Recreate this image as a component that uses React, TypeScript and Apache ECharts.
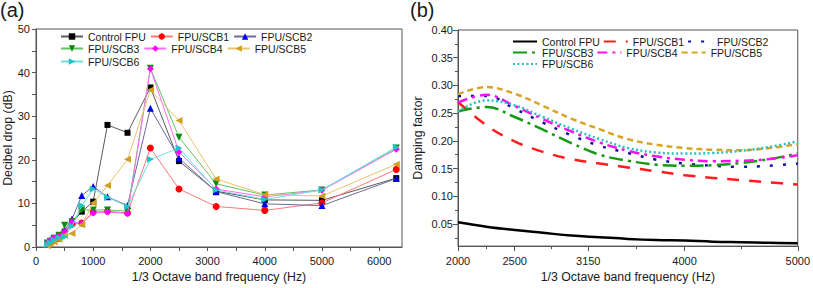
import React, { useEffect, useRef } from "react";
import * as echarts from "echarts";

// ---------- Data: panel (a) ----------
const freqA = [200, 250, 315, 400, 500, 630, 800, 1000, 1250, 1600, 2000, 2500, 3150, 4000, 5000, 6300];
const controlA = [0.8, 1.2, 1.8, 2.4, 3.5, 5.5, 8.1, 10.4, 28.0, 26.2, 36.6, 19.7, 12.8, 10.8, 10.7, 15.8];
const scb1A = [0.6, 1.0, 1.5, 2.0, 3.0, 5.2, 5.5, 8.0, 8.2, 7.8, 22.7, 13.3, 9.3, 8.4, 10.1, 17.8];
const scb2A = [1.0, 1.5, 2.0, 2.6, 3.9, 6.4, 11.8, 13.9, 11.5, 9.5, 31.8, 20.4, 12.7, 9.9, 9.5, 15.7];
const scb3A = [0.9, 1.3, 2.0, 2.7, 5.0, 5.8, 8.5, 8.5, 8.5, 8.2, 41.0, 25.2, 14.5, 11.9, 13.1, 22.7];
const scb4A = [0.9, 1.6, 2.1, 2.5, 3.5, 5.8, 5.4, 7.8, 8.0, 7.7, 40.9, 21.8, 13.3, 11.5, 13.0, 22.4];
const scb5A = [0.3, 0.8, 1.2, 1.8, 2.7, 3.1, 5.1, 10.1, 14.1, 20.1, 36.0, 29.0, 15.6, 12.0, 11.7, 19.0];
const scb6A = [0.5, 1.0, 1.6, 2.2, 2.3, 4.8, 9.5, 13.3, 11.4, 9.3, 20.1, 22.7, 13.1, 10.9, 13.1, 22.9];

const xLabelsA = [0, 1000, 2000, 3000, 4000, 5000, 6000];
const xTicksA = [0, 500, 1000, 1500, 2000, 2500, 3000, 3500, 4000, 4500, 5000, 5500, 6000];
const yLabelsA = [0, 10, 20, 30, 40, 50];
const yTicksA = [0, 5, 10, 15, 20, 25, 30, 35, 40, 45, 50];

// ---------- Data: panel (b) ----------
const freqB = [2000, 2250, 2500, 2750, 3000, 3250, 3500, 3750, 4000, 4250, 4500, 4750, 5000];
const controlB = [0.053, 0.045, 0.039, 0.034, 0.029, 0.026, 0.023, 0.021, 0.020, 0.018, 0.017, 0.016, 0.015];
const scb1B = [0.270, 0.228, 0.199, 0.180, 0.167, 0.159, 0.152, 0.145, 0.138, 0.133, 0.129, 0.125, 0.121];
const scb2B = [0.281, 0.281, 0.258, 0.233, 0.210, 0.191, 0.178, 0.166, 0.159, 0.155, 0.153, 0.155, 0.159];
const scb3B = [0.253, 0.261, 0.243, 0.220, 0.196, 0.175, 0.164, 0.157, 0.155, 0.156, 0.160, 0.167, 0.177];
const scb4B = [0.269, 0.283, 0.263, 0.239, 0.217, 0.197, 0.182, 0.172, 0.166, 0.163, 0.164, 0.167, 0.174];
const scb5B = [0.284, 0.297, 0.285, 0.263, 0.240, 0.221, 0.203, 0.193, 0.187, 0.184, 0.183, 0.187, 0.194];
const scb6B = [0.253, 0.273, 0.264, 0.243, 0.222, 0.203, 0.187, 0.179, 0.177, 0.178, 0.182, 0.189, 0.199];

const xLabelsB = [2000, 2500, 3150, 4000, 5000];
const xMinorB = [2250, 2825, 3575, 4500];
const yLabelsB = [0.05, 0.1, 0.15, 0.2, 0.25, 0.3, 0.35, 0.4];
const yMinorB = [0.025, 0.075, 0.125, 0.175, 0.225, 0.275, 0.325, 0.375];

const names = ["Control FPU", "FPU/SCB1", "FPU/SCB2", "FPU/SCB3", "FPU/SCB4", "FPU/SCB5", "FPU/SCB6"];

const FONT = "'Liberation Sans', Arial, sans-serif";
const AXIS = "#555";
const TXT = "#1a1a1a";

const pair = (xs: number[], ys: number[]) => xs.map((x, i) => [x, ys[i]]);

export default function App() {
  const ref = useRef<HTMLDivElement>(null);
  useEffect(() => {
    if (!ref.current) return;
    const chart = echarts.init(ref.current, undefined, { renderer: "svg" });

    const seriesA = [
      { data: controlA, line: "#5a5a5a", mark: "#000000", symbol: "rect", rot: 0 },
      { data: scb1A, line: "#ff7878", mark: "#ff0000", symbol: "circle", rot: 0 },
      { data: scb2A, line: "#6a6a9a", mark: "#0000ee", symbol: "triangle", rot: 0 },
      { data: scb3A, line: "#5fc45f", mark: "#0a8a0a", symbol: "triangle", rot: 180 },
      { data: scb4A, line: "#ff6cff", mark: "#ff00ff", symbol: "diamond", rot: 0 },
      { data: scb5A, line: "#e8c46a", mark: "#d19f1c", symbol: "triangle", rot: 90 },
      { data: scb6A, line: "#6ee0e0", mark: "#20c4c4", symbol: "triangle", rot: -90 },
    ].map((s, i) => ({
      type: "line",
      name: names[i],
      xAxisIndex: 0,
      yAxisIndex: 0,
      data: pair(freqA, s.data),
      symbol: s.symbol,
      symbolRotate: s.rot,
      symbolSize: s.symbol === "rect" ? 6 : 7,
      lineStyle: { color: s.line, width: 1 },
      itemStyle: { color: s.mark },
      z: 2 + i,
    }));

    const seriesB = [
      { data: controlB, color: "#000000", type: "solid" as any },
      { data: scb1B, color: "#ff1c1c", type: [12, 10] },
      { data: scb2B, color: "#12129c", type: [3, 10] },
      { data: scb3B, color: "#139a13", type: [14, 5, 3, 5] },
      { data: scb4B, color: "#ff10f0", type: [10, 5, 3, 5] },
      { data: scb5B, color: "#d9a323", type: [6, 4] },
      { data: scb6B, color: "#22c2c2", type: [2, 2.5] },
    ].map((s, i) => ({
      type: "line",
      name: names[i] + "#b",
      xAxisIndex: 2,
      yAxisIndex: 2,
      data: pair(freqB, s.data),
      showSymbol: false,
      symbol: "none",
      smooth: 0.4,
      lineStyle: { color: s.color, width: 2.5, type: s.type },
      itemStyle: { color: s.color },
      z: 2 + i,
    }));

    const legendCommon = {
      orient: "horizontal",
      padding: 0,
      itemGap: 4,
      itemWidth: 22,
      itemHeight: 8,
      textStyle: { fontSize: 10.5, fontFamily: FONT, color: TXT },
      selectedMode: false,
    };
    const legendB = {
      ...legendCommon,
      itemWidth: 24,
      itemGap: 3,
      itemStyle: { opacity: 0 },
      formatter: (n: string) => n.replace("#b", ""),
    };

    const tickLabel = { fontSize: 11, fontFamily: FONT, color: TXT, formatter: (v: number) => String(v) };
    const nameStyle = { fontSize: 12.3, fontFamily: FONT, color: TXT };

    chart.setOption({
      animation: false,
      backgroundColor: "#ffffff",
      title: [
        { text: "(a)", left: 0, top: 0, padding: 0, textStyle: { fontSize: 20, fontWeight: "normal", fontFamily: FONT, color: TXT } },
        { text: "(b)", left: 410, top: 0, padding: 0, textStyle: { fontSize: 20, fontWeight: "normal", fontFamily: FONT, color: TXT } },
      ],
      legend: [
        { ...legendCommon, left: 60, top: 31, data: names.slice(0, 3) },
        { ...legendCommon, left: 60, top: 43, data: names.slice(3, 6) },
        { ...legendCommon, left: 60, top: 56, data: names.slice(6) },
        { ...legendB, left: 512, top: 36, data: names.slice(0, 3).map((n) => n + "#b") },
        { ...legendB, left: 512, top: 47, data: names.slice(3, 6).map((n) => n + "#b") },
        { ...legendB, left: 512, top: 58.5, data: names.slice(6).map((n) => n + "#b") },
      ],
      grid: [
        { left: 36, top: 29, width: 366, height: 221, show: true, borderColor: AXIS, borderWidth: 1, backgroundColor: "transparent" },
        { left: 458, top: 30, width: 341, height: 221, show: true, borderColor: AXIS, borderWidth: 1, backgroundColor: "transparent" },
      ],
      xAxis: [
        {
          type: "value", gridIndex: 0, min: 0, max: 6400, position: "bottom",
          name: "1/3 Octave band frequency (Hz)", nameLocation: "middle", nameGap: 24, nameTextStyle: nameStyle,
          axisLine: { show: true, lineStyle: { color: AXIS } },
          axisTick: { show: true, length: 4, customValues: xTicksA, lineStyle: { color: AXIS } },
          axisLabel: { ...tickLabel, margin: 8, customValues: xLabelsA },
          splitLine: { show: false },
        },
        {
          type: "value", gridIndex: 1, min: 2000, max: 5000, show: true, position: "bottom",
          axisLine: { show: false }, axisLabel: { show: false }, splitLine: { show: false },
          axisTick: { show: true, length: 3, customValues: xMinorB, lineStyle: { color: AXIS } },
        },
        {
          type: "value", gridIndex: 1, min: 2000, max: 5000, position: "bottom",
          name: "1/3 Octave band frequency (Hz)", nameLocation: "middle", nameGap: 24, nameTextStyle: nameStyle,
          axisLine: { show: true, lineStyle: { color: AXIS } },
          axisTick: { show: true, length: 5, customValues: xLabelsB, lineStyle: { color: AXIS } },
          axisLabel: { ...tickLabel, margin: 9, customValues: xLabelsB },
          splitLine: { show: false },
        },
      ],
      yAxis: [
        {
          type: "value", gridIndex: 0, min: 0, max: 50, position: "left",
          name: "Decibel drop (dB)", nameLocation: "middle", nameGap: 20, nameTextStyle: nameStyle,
          axisLine: { show: true, lineStyle: { color: AXIS } },
          axisTick: { show: true, length: 4, customValues: yTicksA, lineStyle: { color: AXIS } },
          axisLabel: { ...tickLabel, margin: 6, customValues: yLabelsA },
          splitLine: { show: false },
        },
        {
          type: "value", gridIndex: 1, min: 0.01, max: 0.4, position: "left", show: true,
          axisLine: { show: false }, axisLabel: { show: false }, splitLine: { show: false },
          axisTick: { show: true, length: 3, customValues: yMinorB, lineStyle: { color: AXIS } },
        },
        {
          type: "value", gridIndex: 1, min: 0.01, max: 0.4, position: "left",
          name: "Damping factor", nameLocation: "middle", nameGap: 34, nameTextStyle: nameStyle,
          axisLine: { show: true, lineStyle: { color: AXIS } },
          axisTick: { show: true, length: 5, customValues: yLabelsB, lineStyle: { color: AXIS } },
          axisLabel: { ...tickLabel, margin: 5, customValues: yLabelsB, formatter: (v: number) => v.toFixed(2) },
          splitLine: { show: false },
        },
      ],
      series: [...seriesA, ...seriesB],
    } as any);

    return () => chart.dispose();
  }, []);

  return <div ref={ref} style={{ position: "absolute", left: 0, top: 0, width: 813, height: 288 }} />;
}
